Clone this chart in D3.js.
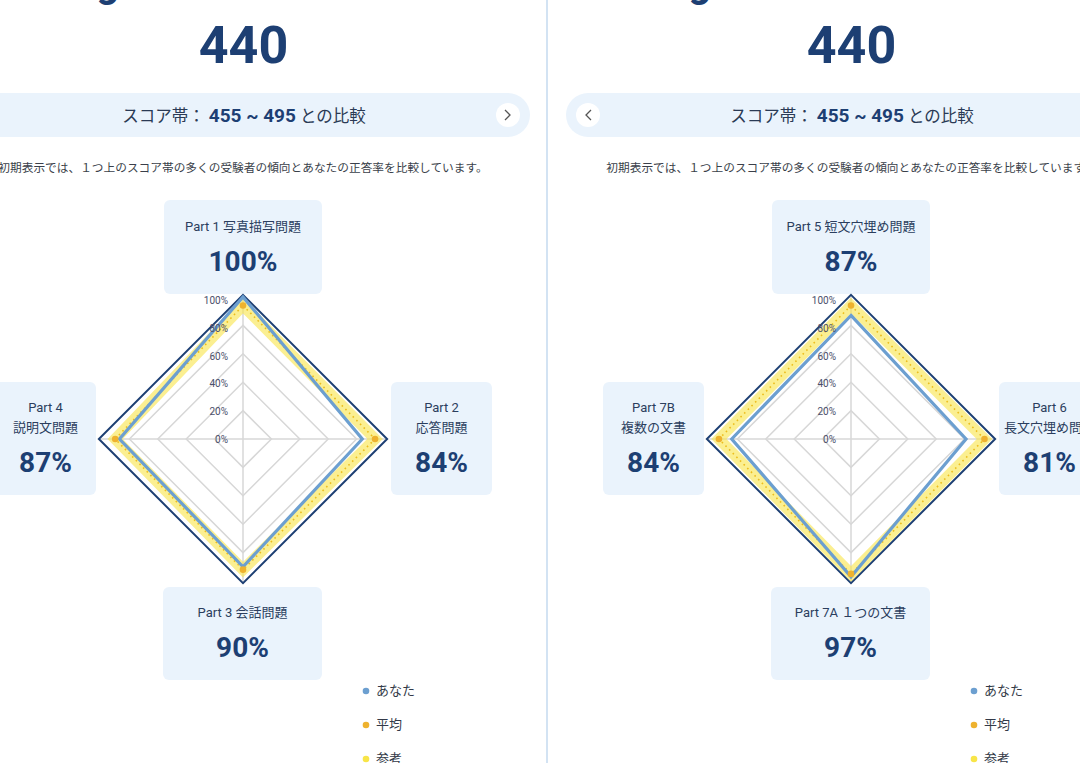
<!DOCTYPE html>
<html>
<head>
<meta charset="utf-8">
<script src="https://d3js.org/d3.v7.min.js"></script>
<style>
  body { margin: 0; background: #fff; }
  text { font-family: Roboto, "Noto Sans CJK JP", sans-serif; }
</style>
</head>
<body>
<svg id="svg" width="1080" height="763"></svg>
<script>
// data
const scoreValue = "440";
const bandLow = 455, bandHigh = 495;
const note = "初期表示では、１つ上のスコア帯の多くの受験者の傾向とあなたの正答率を比較しています。";
const tickValues = [0, 20, 40, 60, 80, 100];
const legendNames = ["あなた", "平均", "参考"];

const leftLabels = [["Part 1 写真描写問題"], ["Part 2", "応答問題"], ["Part 3 会話問題"], ["Part 4", "説明文問題"]];
const leftYou = [100, 84, 90, 87];
const leftAvg = [94, 93, 92, 90];
const leftRef = [94, 93, 92, 90];

const rightLabels = [["Part 5 短文穴埋め問題"], ["Part 6", "長文穴埋め問題"], ["Part 7A １つの文書"], ["Part 7B", "複数の文書"]];
const rightYou = [87, 81, 97, 84];
const rightAvg = [94, 94, 95, 93];
const rightRef = [94, 94, 95, 93];

const colors = { you: "#6c9fd0", avg: "#eeb22e", ref: "#f8e548", navy: "#1d3f73", grid: "#d7d7d7", box: "#eaf3fc" };

var svg = d3.select("#svg");
var cy = 439;
var r = d3.scaleLinear().domain([0, 100]).range([0, 142]);

function pt(cx, i, v) {
    var a = i * Math.PI / 2;
    return [cx + r(v) * Math.sin(a), cy - r(v) * Math.cos(a)];
}
var line = d3.line().curve(d3.curveLinearClosed);

function panel(cx, labels, you, avg, ref, heading, btnSide) {
    var g = svg.append("g");

    // heading, mostly above the view
    g.append("text").attr("x", btnSide == "next" ? 119 : 711).attr("y", -3)
        .attr("text-anchor", "end").attr("font-size", 40).attr("font-weight", 700)
        .attr("fill", colors.navy).text(heading);

    g.append("text").attr("x", cx + 0.5).attr("y", 63).attr("text-anchor", "middle")
        .attr("font-size", 52).attr("font-weight", 700).attr("fill", colors.navy).text(scoreValue);

    // pill
    if (btnSide == "next") {
        g.append("rect").attr("x", -40).attr("y", 93).attr("width", 570).attr("height", 44).attr("rx", 22).attr("fill", colors.box);
        g.append("circle").attr("cx", 508).attr("cy", 115).attr("r", 12).attr("fill", "#fff");
        g.append("path").attr("d", "M505,110L510,115L505,120").attr("fill", "none").attr("stroke", "#555").attr("stroke-width", 1.3);
    } else {
        g.append("rect").attr("x", 566).attr("y", 93).attr("width", 560).attr("height", 44).attr("rx", 22).attr("fill", colors.box);
        g.append("circle").attr("cx", 588).attr("cy", 115).attr("r", 12).attr("fill", "#fff");
        g.append("path").attr("d", "M591,110L586,115L591,120").attr("fill", "none").attr("stroke", "#555").attr("stroke-width", 1.3);
    }
    var t = g.append("text").attr("x", cx + 1).attr("y", 122).attr("text-anchor", "middle").attr("fill", "#2a3a55");
    t.append("tspan").attr("font-size", 16.5).text("スコア帯： ");
    t.append("tspan").attr("font-size", 19).attr("font-weight", 700).attr("fill", colors.navy).text(bandLow + " ~ " + bandHigh);
    t.append("tspan").attr("font-size", 16.5).text(" との比較");

    g.append("text").attr("x", cx).attr("y", 172).attr("text-anchor", "middle")
        .attr("font-size", 11.7).attr("fill", "#3a3f4a").text(note);

    // label boxes: top, right, bottom, left
    var boxes = [
        { x: cx - 79, y: 200, w: 158, h: 94, ly: [26], vy: 61 },
        { x: cx + 148, y: 382, w: 101, h: 113, ly: [25, 45], vy: 80 },
        { x: cx - 80, y: 587, w: 159, h: 93, ly: [25], vy: 60 },
        { x: cx - 248, y: 382, w: 101, h: 113, ly: [25, 45], vy: 80 }
    ];
    boxes.forEach(function (b, i) {
        g.append("rect").attr("x", b.x).attr("y", b.y).attr("width", b.w).attr("height", b.h).attr("rx", 6).attr("fill", colors.box);
        labels[i].forEach(function (s, j) {
            g.append("text").attr("x", b.x + b.w / 2).attr("y", b.y + b.ly[j]).attr("dy", "0.35em")
                .attr("text-anchor", "middle").attr("font-size", 13).attr("fill", "#2b3e5e").text(s);
        });
        g.append("text").attr("x", b.x + b.w / 2).attr("y", b.y + b.vy).attr("dy", "0.36em")
            .attr("text-anchor", "middle").attr("font-size", 28).attr("font-weight", 700)
            .attr("fill", colors.navy).text(you[i] + "%");
    });

    // grid
    var idx = [0, 1, 2, 3];
    tickValues.slice(1, -1).forEach(function (v) {
        g.append("path").attr("d", line(idx.map(i => pt(cx, i, v)))).attr("fill", "none")
            .attr("stroke", colors.grid).attr("stroke-width", 1.5);
    });
    idx.forEach(function (i) {
        var p = pt(cx, i, 100);
        g.append("line").attr("x1", cx).attr("y1", cy).attr("x2", p[0]).attr("y2", p[1])
            .attr("stroke", colors.grid).attr("stroke-width", 1.5);
    });
    g.append("path").attr("d", line(idx.map(i => pt(cx, i, 101.5)))).attr("fill", "none")
        .attr("stroke", colors.navy).attr("stroke-width", 2);

    // reference band + average dotted line
    g.append("path").attr("d", line(ref.map((v, i) => pt(cx, i, v)))).attr("fill", "none")
        .attr("stroke", colors.ref).attr("stroke-opacity", 0.6).attr("stroke-width", 11).attr("stroke-linejoin", "miter");
    g.append("path").attr("d", line(avg.map((v, i) => pt(cx, i, v)))).attr("fill", "none")
        .attr("stroke", "#ecbd1c").attr("stroke-width", 1.6).attr("stroke-dasharray", "1.6,3.6");
    // you
    g.append("path").attr("d", line(you.map((v, i) => pt(cx, i, v)))).attr("fill", "none")
        .attr("stroke", colors.you).attr("stroke-width", 3.2).attr("stroke-linejoin", "miter");
    g.selectAll(null).data(avg).enter().append("circle")
        .attr("cx", (v, i) => pt(cx, i, v)[0]).attr("cy", (v, i) => pt(cx, i, v)[1])
        .attr("r", 3.3).attr("fill", colors.avg);

    // tick labels
    tickValues.forEach(function (v) {
        g.append("text").attr("x", cx - 15).attr("y", cy - r(v) * 0.972).attr("dy", "0.35em")
            .attr("text-anchor", "end").attr("font-size", 10).attr("fill", "#4b4f6b").text(v + "%");
    });

    // legend
    var lc = [colors.you, colors.avg, colors.ref];
    legendNames.forEach(function (s, i) {
        g.append("circle").attr("cx", cx + 123).attr("cy", 691 + 34 * i).attr("r", 3.3).attr("fill", lc[i]);
        g.append("text").attr("x", cx + 133).attr("y", 690 + 34 * i).attr("dy", "0.35em")
            .attr("font-size", 13).attr("fill", "#333a48").text(s);
    });
}

panel(243, leftLabels, leftYou, leftAvg, leftRef, "Listening", "next");
panel(851, rightLabels, rightYou, rightAvg, rightRef, "Reading", "prev");

// divider
svg.append("line").attr("x1", 547).attr("x2", 547).attr("y1", 0).attr("y2", 763)
    .attr("stroke", "#d3e3f3").attr("stroke-width", 2);
</script>
</body>
</html>
